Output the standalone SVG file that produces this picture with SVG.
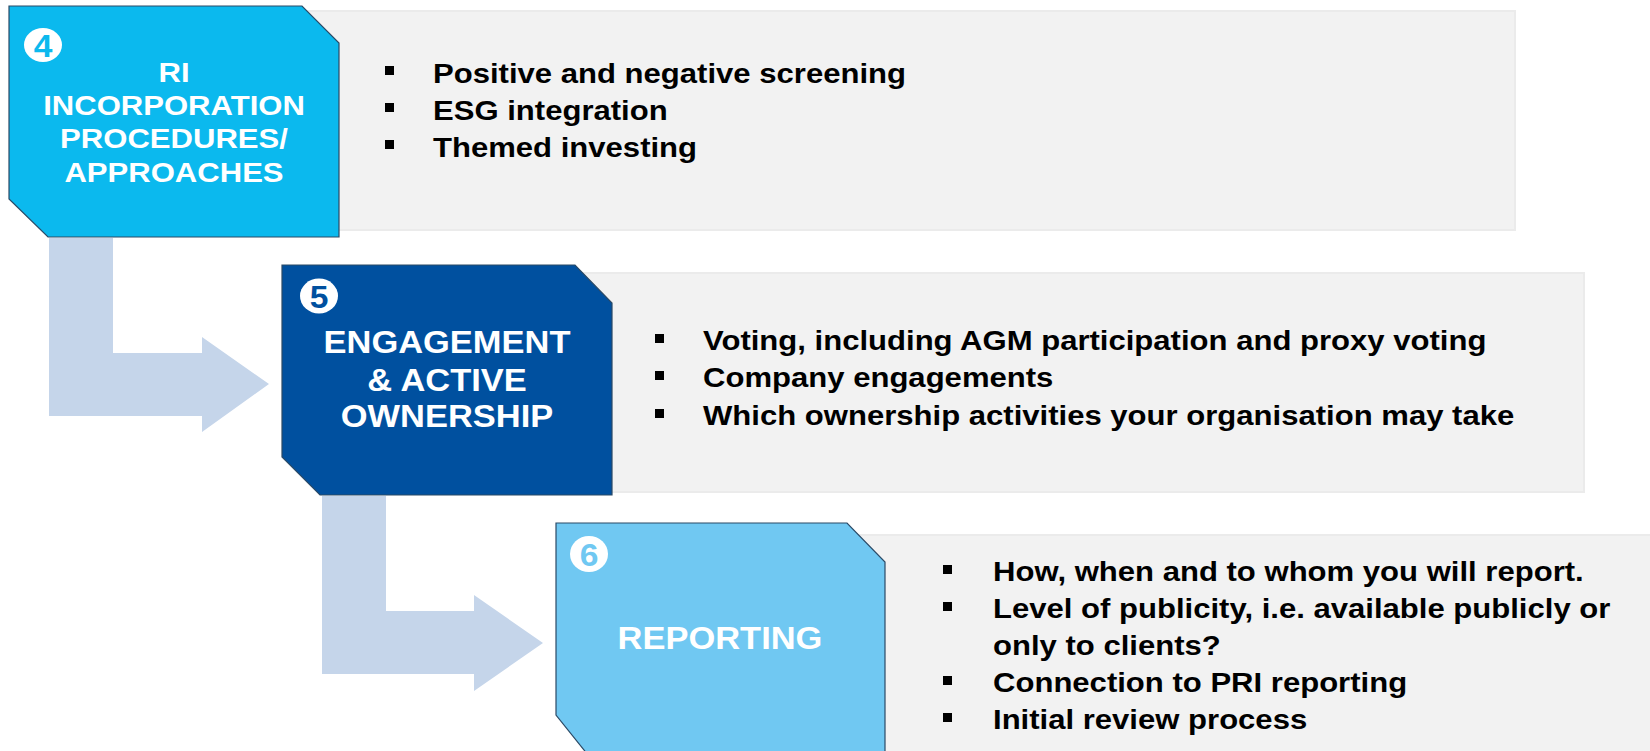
<svg xmlns="http://www.w3.org/2000/svg" width="1650" height="751" viewBox="0 0 1650 751">
  <defs>
    <style>
      .panel { fill: #F2F2F2; stroke: #EBEBEB; stroke-width: 2; }
      .box { stroke: #2B4A66; stroke-width: 1.2; }
      .arrow { fill: #C5D5EA; }
      .title { font-family: "Liberation Sans", Arial, sans-serif; font-weight: bold; fill: #FFFFFF; text-anchor: middle; }
      .t4 { font-size: 27.5px; }
      .t56 { font-size: 30.5px; }
      .num { font-family: "Liberation Sans", Arial, sans-serif; font-weight: bold; font-size: 32px; text-anchor: middle; }
      .item { font-family: "Liberation Sans", Arial, sans-serif; font-weight: bold; font-size: 27.5px; fill: #000000; }
      .bullet { fill: #000000; }
    </style>
  </defs>
  <rect width="1650" height="751" fill="#FFFFFF"/>

  <g id="connectors">
    <polygon class="arrow" points="49,238 113,238 113,353 202,353 202,337 269,384 202,432 202,416 49,416"/>
    <polygon class="arrow" points="322,496 386,496 386,611 474,611 474,595 543,643 474,691 474,674 322,674"/>
  </g>

  <g id="node-4">
    <rect class="panel" x="300" y="11" width="1215" height="219"/>
    <polygon class="box" fill="#0BB9EE" points="9,6 302,6 339,43 339,237 48,237 9,199"/>
    <ellipse cx="43" cy="45" rx="19" ry="17" fill="#FFFFFF"/>
    <text class="num" fill="#0BB9EE" transform="matrix(1.05 0 0 1 43 56.5)">4</text>
    <text class="title t4" transform="matrix(1.13 0 0 1 174 82)">RI</text>
    <text class="title t4" transform="matrix(1.13 0 0 1 174 115)">INCORPORATION</text>
    <text class="title t4" transform="matrix(1.13 0 0 1 174 148)">PROCEDURES/</text>
    <text class="title t4" transform="matrix(1.13 0 0 1 174 182)">APPROACHES</text>
    <rect class="bullet" x="385" y="66" width="9" height="9"/>
    <rect class="bullet" x="385" y="103" width="9" height="9"/>
    <rect class="bullet" x="385" y="140" width="9" height="9"/>
    <text class="item" transform="matrix(1.13 0 0 1 433 83)">Positive and negative screening</text>
    <text class="item" transform="matrix(1.13 0 0 1 433 120)">ESG integration</text>
    <text class="item" transform="matrix(1.13 0 0 1 433 157)">Themed investing</text>
  </g>

  <g id="node-5">
    <rect class="panel" x="580" y="273" width="1004" height="219"/>
    <polygon class="box" fill="#00509F" points="282,265 575,265 612,303 612,495 320,495 282,457"/>
    <ellipse cx="319" cy="296" rx="19" ry="17.5" fill="#FFFFFF"/>
    <text class="num" fill="#00509F" transform="matrix(1.05 0 0 1 319 307.5)">5</text>
    <text class="title t56" transform="matrix(1.13 0 0 1 447 353)">ENGAGEMENT</text>
    <text class="title t56" transform="matrix(1.13 0 0 1 447 391)">&amp; ACTIVE</text>
    <text class="title t56" transform="matrix(1.13 0 0 1 447 427)">OWNERSHIP</text>
    <rect class="bullet" x="655" y="334" width="9" height="9"/>
    <rect class="bullet" x="655" y="371" width="9" height="9"/>
    <rect class="bullet" x="655" y="409" width="9" height="9"/>
    <text class="item" transform="matrix(1.13 0 0 1 703 350)">Voting, including AGM participation and proxy voting</text>
    <text class="item" transform="matrix(1.13 0 0 1 703 387)">Company engagements</text>
    <text class="item" transform="matrix(1.13 0 0 1 703 425)">Which ownership activities your organisation may take</text>
  </g>

  <g id="node-6">
    <rect class="panel" x="850" y="535" width="810" height="230"/>
    <polygon class="box" fill="#70C8F2" points="556,523 847,523 885,562 885,760 592,760 556,715"/>
    <ellipse cx="589" cy="554" rx="19" ry="18" fill="#FFFFFF"/>
    <text class="num" fill="#70C8F2" transform="matrix(1.05 0 0 1 589 565.5)">6</text>
    <text class="title t56" transform="matrix(1.13 0 0 1 720 649)">REPORTING</text>
    <rect class="bullet" x="943" y="565" width="9" height="9"/>
    <rect class="bullet" x="943" y="602" width="9" height="9"/>
    <rect class="bullet" x="943" y="676" width="9" height="9"/>
    <rect class="bullet" x="943" y="713" width="9" height="9"/>
    <text class="item" transform="matrix(1.13 0 0 1 993 581)">How, when and to whom you will report.</text>
    <text class="item" transform="matrix(1.13 0 0 1 993 618)">Level of publicity, i.e. available publicly or</text>
    <text class="item" transform="matrix(1.13 0 0 1 993 655)">only to clients?</text>
    <text class="item" transform="matrix(1.13 0 0 1 993 692)">Connection to PRI reporting</text>
    <text class="item" transform="matrix(1.13 0 0 1 993 729)">Initial review process</text>
  </g>
</svg>
